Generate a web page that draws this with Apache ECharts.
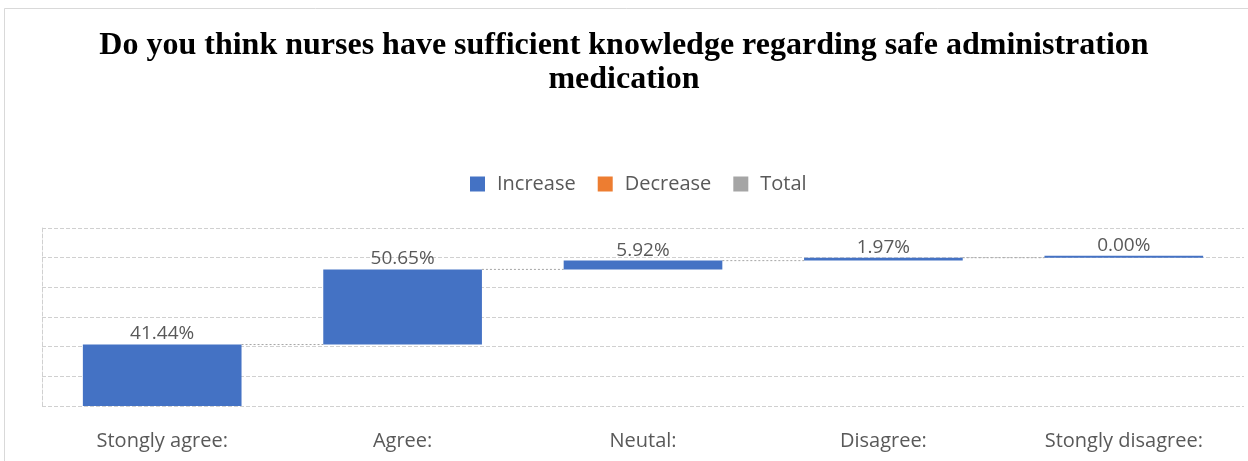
<!DOCTYPE html>
<html>
<head>
<meta charset="utf-8">
<script src="https://cdn.jsdelivr.net/npm/echarts@6/dist/echarts.min.js"></script>
<style>html,body{margin:0;padding:0;background:#fff;}#c{width:1248px;height:461px;}</style>
</head>
<body>
<div id="c"></div>
<script>
var titleText = 'Do you think nurses have sufficient knowledge regarding safe administration\nmedication';
var categories = ['Stongly agree:', 'Agree:', 'Neutal:', 'Disagree:', 'Stongly disagree:'];
var increaseValues = [41.44, 50.65, 5.92, 1.97, 0.00];
var decreaseValues = [];
var totalValues = [];
var legendNames = ['Increase', 'Decrease', 'Total'];
var yMin = 0, yMax = 120, yInterval = 20;

var baseValues = [];
var cumulative = [];
var run = 0;
for (var i = 0; i < increaseValues.length; i++) {
  baseValues.push(run);
  run += increaseValues[i];
  cumulative.push(run);
}
var connectorData = [];
for (var j = 0; j < cumulative.length - 1; j++) connectorData.push([j, cumulative[j]]);

var BAR_FRAC = 0.66;
var labelFont = 'Open Sans';
var chart = echarts.init(document.getElementById('c'), null, {renderer: 'canvas'});
chart.setOption({
  animation: false,
  backgroundColor: '#fff',
  graphic: [{
    type: 'rect', shape: {x: 4.5, y: 8.5, width: 1400, height: 600},
    style: {fill: 'none', stroke: '#d9d9d9', lineWidth: 1}, silent: true, z: -1
  }],
  title: {
    text: titleText, left: 'center', top: 24,
    textStyle: {fontFamily: 'Liberation Serif', fontWeight: 'bold', fontSize: 32, color: '#000', lineHeight: 34}
  },
  legend: {
    data: legendNames, top: 169, left: 465, itemWidth: 15, itemHeight: 15, itemGap: 22,
    icon: 'rect',
    textStyle: {fontFamily: labelFont, fontSize: 20, color: '#595959', padding: [0, 0, 0, 7]}
  },
  grid: {left: 42, right: 4, top: 228, bottom: 55},
  xAxis: {
    type: 'category', data: categories,
    axisLine: {show: false}, axisTick: {show: false},
    axisLabel: {fontFamily: labelFont, fontSize: 20, color: '#595959', margin: 25}
  },
  yAxis: {
    type: 'value', min: yMin, max: yMax, interval: yInterval,
    axisLabel: {show: false}, axisTick: {show: false},
    axisLine: {show: true, lineStyle: {color: '#d0d0d0', type: 'dashed', width: 1}},
    splitLine: {lineStyle: {color: '#d0d0d0', type: 'dashed', width: 1}}
  },
  series: [
    {
      name: 'Base', type: 'bar', stack: 'w', data: baseValues, barCategoryGap: '34%',
      itemStyle: {color: 'rgba(0,0,0,0)'}, silent: true, emphasis: {disabled: true}
    },
    {
      name: 'Increase', type: 'bar', stack: 'w', data: increaseValues, barMinHeight: 2,
      itemStyle: {color: '#4472C4'},
      label: {
        show: true, position: 'top', distance: 1,
        formatter: function (p) { return p.value.toFixed(2) + '%'; },
        fontFamily: labelFont, fontSize: 19, color: '#595959'
      }
    },
    {name: 'Decrease', type: 'bar', stack: 'w', data: decreaseValues, itemStyle: {color: '#ED7D31'}},
    {name: 'Total', type: 'bar', stack: 'w', data: totalValues, itemStyle: {color: '#A5A5A5'}},
    {
      name: 'Connector', type: 'custom', data: connectorData, silent: true, z: 1,
      renderItem: function (params, api) {
        var idx = api.value(0), v = api.value(1);
        var pt = api.coord([idx, v]);
        var w = api.size([1, 0])[0];
        var bw = w * BAR_FRAC;
        return {
          type: 'line',
          shape: {x1: pt[0] + bw / 2, y1: pt[1], x2: pt[0] + w - bw / 2, y2: pt[1]},
          style: {stroke: '#a6a6a6', lineWidth: 1, lineDash: [2, 2]}
        };
      }
    }
  ]
});
</script>
</body>
</html>
